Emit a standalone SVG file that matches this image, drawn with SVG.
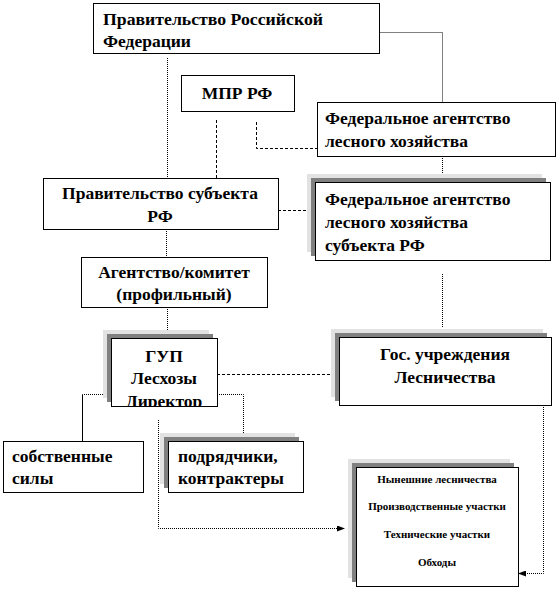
<svg xmlns="http://www.w3.org/2000/svg" width="557" height="590" viewBox="0 0 557 590">
<style>
.box{fill:#fff;stroke:#000;stroke-width:1}
.sh1{fill:#e2e2e2}
.sh2{fill:#808080}
.t{font-family:'Liberation Serif','DejaVu Serif',serif;font-weight:bold;font-size:17.5px;fill:#000}
.s{font-family:'Liberation Serif','DejaVu Serif',serif;font-weight:bold;font-size:11px;fill:#000}
.c{text-anchor:middle}
.dot{fill:none;stroke:#000;stroke-width:1;stroke-dasharray:1 1}
.dash{fill:none;stroke:#000;stroke-width:1;stroke-dasharray:3 2}
.sol{fill:none;stroke:#000;stroke-width:1}
</style>
<defs>
<marker id="arr" markerWidth="8" markerHeight="6" refX="7" refY="3" orient="auto" markerUnits="userSpaceOnUse">
<path d="M0,0 L8,3 L0,6 Z" fill="#000"/>
</marker>
<clipPath id="gupclip"><rect x="111" y="338" width="106" height="68"/></clipPath>
</defs>
<rect width="557" height="590" fill="#fff"/>

<g id="connectors">
<polyline class="dot" points="379.5,32.5 442.5,32.5 442.5,102"/>
<line class="dot" x1="167.5" y1="58" x2="167.5" y2="178"/>
<line class="dash" x1="216.5" y1="120" x2="216.5" y2="178"/>
<polyline class="dash" points="256.5,122 256.5,148.5 317,148.5"/>
<line class="dot" x1="442.5" y1="158" x2="442.5" y2="174"/>
<line class="dash" x1="278" y1="210.5" x2="315" y2="210.5"/>
<line class="dot" x1="166.5" y1="231" x2="166.5" y2="257"/>
<line class="dot" x1="442.5" y1="274" x2="442.5" y2="328"/>
<line class="dot" x1="167.5" y1="309" x2="167.5" y2="331"/>
<line class="dash" x1="217" y1="374.5" x2="339" y2="374.5"/>
<polyline class="dot" points="217,394.5 243.5,394.5 243.5,433"/>
<line class="dot" x1="103" y1="394.5" x2="82.5" y2="394.5"/>
<line class="sol" x1="82.5" y1="394.5" x2="82.5" y2="441"/>
<polyline class="dot" points="158.5,420 158.5,528.5 344,528.5" marker-end="url(#arr)"/>
<polyline class="dot" points="543.5,405 543.5,573.5 519,573.5" marker-end="url(#arr)"/>
</g>

<g id="n1">
<rect class="box" x="93.5" y="3.5" width="286" height="50"/>
<text class="t" x="103" y="25" textLength="220" lengthAdjust="spacingAndGlyphs">Правительство Российской</text>
<text class="t" x="103" y="47">Федерации</text>
</g>

<g id="n2">
<rect class="box" x="181.5" y="75.5" width="113" height="36"/>
<text class="t c" x="237" y="99">МПР РФ</text>
</g>

<g id="n3">
<rect class="box" x="317.5" y="102.5" width="238" height="54"/>
<text class="t" x="325" y="124">Федеральное агентство</text>
<text class="t" x="325" y="147">лесного хозяйства</text>
</g>

<g id="n4">
<rect class="box" x="43.5" y="178.5" width="235" height="51"/>
<text class="t c" x="160" y="199">Правительство субъекта</text>
<text class="t c" x="160" y="222">РФ</text>
</g>

<g id="n5">
<rect class="sh1" x="307" y="174" width="235" height="78"/>
<rect class="sh2" x="311" y="178" width="235" height="78"/>
<rect class="box" x="315.5" y="182.5" width="235" height="78"/>
<text class="t" x="325" y="205">Федеральное агентство</text>
<text class="t" x="325" y="228">лесного хозяйства</text>
<text class="t" x="325" y="251">субъекта РФ</text>
</g>

<g id="n6">
<rect class="box" x="81.5" y="257.5" width="186" height="50"/>
<text class="t c" x="174" y="278">Агентство/комитет</text>
<text class="t c" x="174" y="300">(профильный)</text>
</g>

<g id="n7">
<rect class="sh1" x="103" y="330" width="106" height="68"/>
<rect class="sh2" x="107" y="334" width="106" height="68"/>
<rect class="box" x="111.5" y="338.5" width="106" height="68"/>
<g clip-path="url(#gupclip)">
<text class="t c" x="164" y="362">ГУП</text>
<text class="t c" x="164" y="384">Лесхозы</text>
<text class="t c" x="164" y="407">Директор</text>
</g>
</g>

<g id="n8">
<rect class="box" x="3.5" y="441.5" width="140" height="51"/>
<text class="t" x="12" y="462">собственные</text>
<text class="t" x="12" y="484">силы</text>
</g>

<g id="n9">
<rect class="sh1" x="160" y="433" width="135" height="51"/>
<rect class="sh2" x="164" y="437" width="135" height="51"/>
<rect class="box" x="168.5" y="441.5" width="135" height="51"/>
<text class="t" x="178" y="462">подрядчики,</text>
<text class="t" x="178" y="484">контрактеры</text>
</g>

<g id="n10">
<rect class="sh1" x="348" y="459" width="162" height="119"/>
<rect class="sh2" x="352" y="463" width="162" height="119"/>
<rect class="box" x="356.5" y="467.5" width="162" height="119"/>
<text class="s c" x="437" y="483">Нынешние лесничества</text>
<text class="s c" x="437" y="510">Производственные участки</text>
<text class="s c" x="437" y="538">Технические  участки</text>
<text class="s c" x="437" y="566">Обходы</text>
</g>

<g id="n11">
<rect class="sh1" x="331" y="329" width="212" height="68"/>
<rect class="sh2" x="335" y="333" width="212" height="68"/>
<rect class="box" x="339.5" y="337.5" width="212" height="68"/>
<text class="t c" x="445" y="360">Гос. учреждения</text>
<text class="t c" x="445" y="383">Лесничества</text>
</g>
</svg>
